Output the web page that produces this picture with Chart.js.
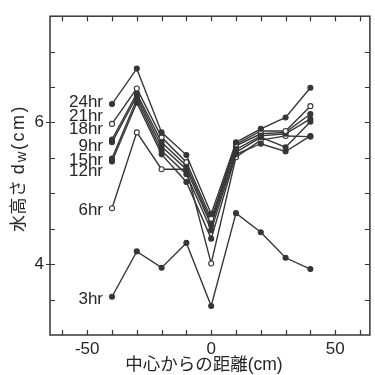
<!DOCTYPE html>
<html>
<head>
<meta charset="utf-8">
<script src="https://cdn.jsdelivr.net/npm/chart.js@4.4.1/dist/chart.umd.min.js"></script>
<style>
  html, body { margin: 0; padding: 0; background: #fff; }
</style>
</head>
<body>
<canvas id="c" width="375" height="375"></canvas>
<script>
// distance from centre (cm) and water height d_w (cm) per elapsed time
const distance = [-40, -30, -20, -10, 0, 10, 20, 30, 40];
const h3  = [3.54, 4.18, 3.95, 4.30, 3.41, 4.72, 4.45, 4.09, 3.93];
const h6  = [4.79, 5.86, 5.34, 5.34, 4.01, 5.51, 5.75, 5.81, 5.80];
const h12 = [5.45, 6.28, 5.55, 5.16, 4.36, 5.55, 5.70, 5.59, 5.81];
const h15 = [5.49, 6.33, 5.60, 5.27, 4.48, 5.58, 5.79, 5.65, 6.01];
const h9  = [5.72, 6.37, 5.66, 5.34, 4.55, 5.62, 5.81, 5.84, 6.05];
const h18 = [5.76, 6.41, 5.72, 5.39, 4.59, 5.67, 5.84, 5.86, 6.12];
const h21 = [5.98, 6.48, 5.79, 5.44, 4.64, 5.69, 5.88, 5.88, 6.23];
const h24 = [6.26, 6.76, 5.86, 5.54, 4.71, 5.72, 5.91, 6.07, 6.49];

const seriesNames  = ['24hr', '21hr', '18hr', '9hr', '15hr', '12hr', '6hr', '3hr'];
const seriesValues = [h24, h21, h18, h9, h15, h12, h6, h3];
const openMarker   = ['21hr', '6hr'];
const xTickLabels  = [-50, 0, 50];
const yTickLabels  = [4, 6];

const LINE = '#363636';
const TEXT = '#262626';
const LATIN = '"Liberation Sans", Arial, "Noto Sans CJK JP", sans-serif';

// where each series name sits (y value) left of its first point
const LABEL_Y = { '24hr': 6.29, '21hr': 6.09, '18hr': 5.90, '9hr': 5.66, '15hr': 5.47, '12hr': 5.31, '6hr': 4.76, '3hr': 3.50 };

const framePlugin = {
  id: 'frame',
  beforeDatasetsDraw(chart) {
    const { ctx, chartArea: a, scales: { x, y } } = chart;
    ctx.save();
    ctx.strokeStyle = LINE;
    ctx.lineWidth = 1.5;
    ctx.strokeRect(a.left, a.top, a.right - a.left, a.bottom - a.top);
    ctx.lineWidth = 1.2;
    const len = 5;
    ctx.beginPath();
    x.ticks.forEach(t => {
      if (t.value <= x.min || t.value >= x.max) return;
      const px = Math.round(x.getPixelForValue(t.value)) + 0.5;
      ctx.moveTo(px, a.bottom); ctx.lineTo(px, a.bottom - len);
      ctx.moveTo(px, a.top); ctx.lineTo(px, a.top + len);
    });
    y.ticks.forEach(t => {
      if (t.value <= y.min || t.value >= y.max) return;
      const py = Math.round(y.getPixelForValue(t.value)) + 0.5;
      const major = yTickLabels.includes(t.value);
      ctx.moveTo(a.left - (major ? 4 : 0), py); ctx.lineTo(a.left + len, py);
      ctx.moveTo(a.right, py); ctx.lineTo(a.right - len, py);
    });
    ctx.stroke();
    ctx.restore();
  },
  afterDraw(chart) {
    const { ctx, chartArea: a, scales: { x, y } } = chart;
    ctx.save();
    ctx.fillStyle = TEXT;

    // series names
    ctx.font = '17px ' + LATIN;
    ctx.textAlign = 'right';
    ctx.textBaseline = 'middle';
    const lx = x.getPixelForValue(distance[0]) - 9;
    seriesNames.forEach(n => ctx.fillText(n, lx, y.getPixelForValue(LABEL_Y[n])));

    // x title
    ctx.textAlign = 'center';
    ctx.font = '17.5px ' + LATIN;
    ctx.fillText('中心からの距離(cm)', (a.left + a.right) / 2 - 6, 365);

    // y title with subscript w
    ctx.translate(18, 168);
    ctx.rotate(-Math.PI / 2);
    ctx.textAlign = 'left';
    ctx.textBaseline = 'alphabetic';
    const parts = [
      { s: '水高さ ', f: '17px ' + LATIN, dy: 0, sp: 0.5 },
      { s: 'd', f: '18px ' + LATIN, dy: 0, sp: 2 },
      { s: 'w', f: '15px ' + LATIN, dy: 2, sp: 1.5 },
      { s: '(cm)', f: '18px ' + LATIN, dy: 0, sp: 2.5 }
    ];
    let total = 0;
    parts.forEach(p => {
      ctx.font = p.f;
      p.w = ctx.measureText(p.s).width + p.sp * p.s.length;
      total += p.w;
    });
    let cx = -total / 2;
    parts.forEach(p => {
      ctx.font = p.f;
      let px = cx;
      for (const ch of p.s) {
        ctx.fillText(ch, px, 6 + p.dy);
        px += ctx.measureText(ch).width + p.sp;
      }
      cx += p.w;
    });
    ctx.restore();
  }
};

new Chart(document.getElementById('c'), {
  type: 'line',
  data: {
    datasets: seriesNames.map((n, i) => ({
      label: n,
      data: distance.map((d, j) => ({ x: d, y: seriesValues[i][j] })),
      borderColor: LINE,
      borderWidth: 1.4,
      pointRadius: 2.5,
      pointBorderWidth: 1.1,
      pointBorderColor: LINE,
      pointBackgroundColor: openMarker.includes(n) ? '#fff' : LINE,
      tension: 0
    }))
  },
  options: {
    responsive: false,
    animation: false,
    devicePixelRatio: 1,
    layout: { padding: { top: 13, right: 2, left: 0, bottom: 0 } },
    plugins: { legend: { display: false }, tooltip: { enabled: false } },
    scales: {
      x: {
        type: 'linear', min: -65, max: 64,
        grid: { display: false, drawTicks: false },
        border: { display: false },
        ticks: {
          stepSize: 10, includeBounds: false, autoSkip: false, maxRotation: 0,
          padding: 4, color: TEXT, font: { family: LATIN, size: 17 },
          callback: v => xTickLabels.includes(v) ? String(v) : ''
        },
        afterFit: s => { s.height = 40; }
      },
      y: {
        type: 'linear', min: 3, max: 7.5,
        grid: { display: false, drawTicks: false },
        border: { display: false },
        ticks: {
          stepSize: 0.5, includeBounds: false, autoSkip: false,
          padding: 6, color: TEXT, font: { family: LATIN, size: 17 },
          callback: v => yTickLabels.includes(v) ? String(v) : ''
        },
        afterFit: s => { s.width = 50; }
      }
    }
  },
  plugins: [framePlugin]
});
</script>
</body>
</html>
